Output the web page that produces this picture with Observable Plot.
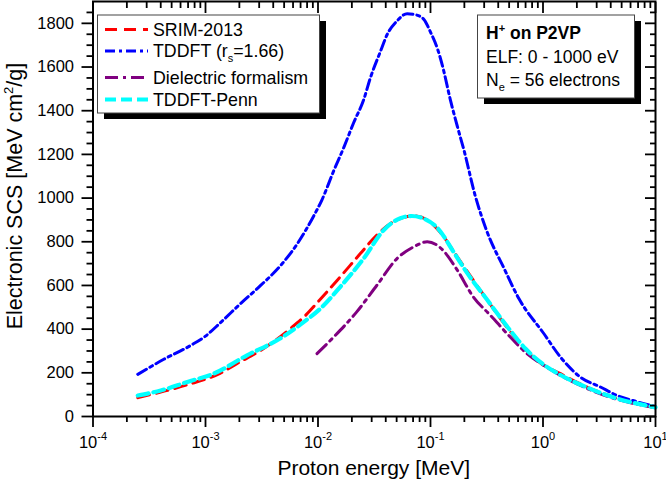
<!DOCTYPE html>
<html><head><meta charset="utf-8">
<script src="https://cdn.jsdelivr.net/npm/d3@7"></script>
<script src="https://cdn.jsdelivr.net/npm/@observablehq/plot@0.6"></script>
<style>
body{margin:0;background:#fff;}
#chart{width:666px;height:480px;}
</style></head><body><div id="chart"></div>
<script>
// ---- data ----
const srimE = [2.5e-4, 4.3e-4, 7.4e-4, 1.36e-3, 1.9e-3, 3.1e-3, 5.7e-3, 7.5e-3, 0.0102, 0.0158, 0.0239, 0.0334, 0.047, 0.06, 0.071, 0.0935, 0.124, 0.173, 0.24, 0.32, 0.45, 0.6, 0.88, 1.43, 2.46, 4.2, 10];
const srimS = [86, 116, 150, 199, 242, 303, 403, 456, 530, 640, 747, 831, 892, 913, 918, 900, 839, 731, 624, 533, 426, 345, 257, 196, 135, 89, 40];

const tddftE = [2.5e-4, 4.26e-4, 7.36e-4, 1e-3, 1.36e-3, 2.05e-3, 3.09e-3, 4.63e-3, 6.53e-3, 9.2e-3, 0.0108, 0.0138, 0.0169, 0.0207, 0.0255, 0.0292, 0.0358, 0.0412, 0.0506, 0.062, 0.075, 0.0874, 0.1, 0.116, 0.13, 0.15, 0.175, 0.198, 0.25, 0.3186, 0.449, 0.61, 1.016, 1.43, 2.15, 3.24, 4.57, 6.3, 10];
const tddftS = [193, 262, 325, 368, 430, 517, 600, 690, 790, 920, 990, 1125, 1230, 1344, 1451, 1550, 1670, 1749, 1812, 1844, 1838, 1818, 1760, 1680, 1590, 1451, 1320, 1221, 1010, 845, 680, 540, 380, 272, 180, 135, 96, 73, 45];

const dielE = [0.0098, 0.0138, 0.0221, 0.0334, 0.0506, 0.071, 0.0935, 0.124, 0.173, 0.24, 0.34, 0.545, 0.72, 1.016, 2.15, 3.9, 10];
const dielS = [288, 364, 479, 601, 724, 777, 800, 770, 670, 548, 464, 349, 288, 234, 142, 89, 40];

const pennE = [2.5e-4, 4e-4, 6.9e-4, 1.18e-3, 2.34e-3, 4.6e-3, 7.5e-3, 0.0105, 0.0158, 0.0255, 0.0385, 0.054, 0.068, 0.085, 0.116, 0.16, 0.213, 0.32, 0.51, 0.7, 1.0, 1.43, 2.46, 4.2, 10];
const pennS = [96, 119, 158, 196, 280, 357, 433, 494, 594, 724, 854, 908, 918, 908, 862, 754, 655, 533, 395, 310, 240, 190, 133, 88, 42];

const seriesNames = ["SRIM-2013", "TDDFT", "Dielectric formalism", "TDDFT-Penn"];
const xMajor = [1e-4, 1e-3, 1e-2, 1e-1, 1, 10];
const yMajor = [0, 200, 400, 600, 800, 1000, 1200, 1400, 1600, 1800];
const xDomain = [1e-4, 10];
const yDomain = [0, 1900];

// minor ticks
const xMinor = [];
for (let k = -4; k < 1; k++) for (let m = 2; m <= 9; m++) xMinor.push(m * Math.pow(10, k));
const yMinor = d3.range(50, 1900, 50).filter(v => v % 200 !== 0);

const styles = [
  {E: srimE, S: srimS, color: "#ff0000", dash: "12,7", width: 3},
  {E: tddftE, S: tddftS, color: "#0000ff", dash: "10,4,3,4", width: 3},
  {E: dielE, S: dielS, color: "#800080", dash: "13,5,3,5", width: 3},
  {E: pennE, S: pennS, color: "#00ffff", dash: "11,5", width: 4.2}
];

const FONT = "'Liberation Sans', Arial, Helvetica, sans-serif";
const W = 666, H = 480, mL = 92.5, mR = 11, mT = 1, mB = 64;
const tw = 1.8;

const marks = [];
styles.forEach((s, i) => {
  const data = s.E.map((e, j) => ({e, v: s.S[j], name: seriesNames[i]}));
  marks.push(Plot.line(data, {x: "e", y: "v", stroke: s.color, strokeWidth: s.width,
    strokeDasharray: s.dash, curve: "monotone-x"}));
});

const tickOnly = {fill: "none", label: null, strokeWidth: tw};
marks.push(
  Plot.axisX({anchor: "bottom", ticks: xMajor, tickSize: 11, tickPadding: 9, fontSize: 16.5,
    tickFormat: d => String(Math.round(Math.log10(d))), label: null, strokeWidth: tw}),
  Plot.axisX({anchor: "bottom", ticks: xMinor, tickSize: 6, ...tickOnly}),
  Plot.axisX({anchor: "top", ticks: xMajor, tickSize: 11, dy: 11, ...tickOnly}),
  Plot.axisX({anchor: "top", ticks: xMinor, tickSize: 6, dy: 6, ...tickOnly}),
  Plot.axisY({anchor: "left", ticks: yMajor, tickSize: 11, tickPadding: 8, fontSize: 16.5,
    tickFormat: d => String(d), label: null, strokeWidth: tw}),
  Plot.axisY({anchor: "left", ticks: yMinor, tickSize: 6, ...tickOnly}),
  Plot.axisY({anchor: "right", ticks: yMajor, tickSize: 11, dx: -11, ...tickOnly}),
  Plot.axisY({anchor: "right", ticks: yMinor, tickSize: 6, dx: -6, ...tickOnly}),
  Plot.frame({stroke: "#000", strokeWidth: 2})
);

const chart = Plot.plot({
  width: W, height: H,
  marginLeft: mL, marginRight: mR, marginTop: mT, marginBottom: mB,
  style: {fontFamily: FONT, color: "#000", background: "#fff", overflow: "visible"},
  x: {type: "log", domain: xDomain},
  y: {domain: yDomain},
  marks
});
document.getElementById("chart").appendChild(chart);

const svg = d3.select(chart);
svg.style("font-family", FONT);

// superscript exponents on x tick labels
svg.selectAll('g[aria-label="x-axis tick label"] text').each(function() {
  const t = d3.select(this);
  const exp = t.text();
  if (!exp) return;
  t.text(null);
  t.append("tspan").text("10");
  t.append("tspan").attr("dy", -8).attr("font-size", "11px").text(exp);
});

// axis titles
svg.append("text").attr("x", (mL + W - mR) / 2).attr("y", 475)
  .attr("text-anchor", "middle").attr("font-size", 21).attr("fill", "#000")
  .text("Proton energy [MeV]");
const yt = svg.append("text").attr("transform", "translate(22,196) rotate(-90)")
  .attr("text-anchor", "middle").attr("font-size", 21.5).attr("fill", "#000");
yt.append("tspan").text("Electronic SCS [MeV cm");
yt.append("tspan").attr("dy", -9).attr("font-size", "13px").text("2");
yt.append("tspan").attr("dy", 9).text("/g]");

// legend box
const lg = svg.append("g").attr("text-anchor", "start");
lg.append("rect").attr("x", 104).attr("y", 21).attr("width", 222).attr("height", 98).attr("fill", "#000");
lg.append("rect").attr("x", 97.5).attr("y", 15).attr("width", 222).attr("height", 98)
  .attr("fill", "#fff").attr("stroke", "#444").attr("stroke-width", 1);
const rows = [29.5, 51, 77.5, 99.5];
styles.forEach((s, i) => {
  lg.append("line").attr("x1", 105).attr("x2", 148).attr("y1", rows[i]).attr("y2", rows[i])
    .attr("stroke", s.color).attr("stroke-width", s.width).attr("stroke-dasharray", s.dash);
  const t = lg.append("text").attr("x", 153).attr("y", rows[i] + 6.3)
    .attr("text-anchor", "start").attr("font-size", 17.8).attr("fill", "#000");
  if (i === 1) {
    t.append("tspan").text("TDDFT (r");
    t.append("tspan").attr("dy", 5).attr("font-size", "11px").text("s");
    t.append("tspan").attr("dy", -5).text("=1.66)");
  } else {
    t.text(seriesNames[i]);
  }
});

// annotation box
const an = svg.append("g").attr("text-anchor", "start");
an.append("rect").attr("x", 484).attr("y", 21).attr("width", 157).attr("height", 83).attr("fill", "#000");
an.append("rect").attr("x", 477.5).attr("y", 15).attr("width", 157).attr("height", 83)
  .attr("fill", "#fff").attr("stroke", "#444").attr("stroke-width", 1);
const a1 = an.append("text").attr("x", 486).attr("y", 38.5).attr("font-size", 17.5)
  .attr("text-anchor", "start").attr("font-weight", "bold").attr("fill", "#000");
a1.append("tspan").text("H");
a1.append("tspan").attr("dy", -7).attr("font-size", "11px").text("+");
a1.append("tspan").attr("dy", 7).text(" on P2VP");
an.append("text").attr("x", 486).attr("y", 63).attr("font-size", 17.5).attr("fill", "#000")
  .attr("text-anchor", "start").text("ELF: 0 - 1000 eV");
const a3 = an.append("text").attr("x", 486).attr("y", 85.5).attr("font-size", 17.5)
  .attr("text-anchor", "start").attr("fill", "#000");
a3.append("tspan").text("N");
a3.append("tspan").attr("dy", 5).attr("font-size", "11px").text("e");
a3.append("tspan").attr("dy", -5).text(" = 56 electrons");
</script>
</body></html>
